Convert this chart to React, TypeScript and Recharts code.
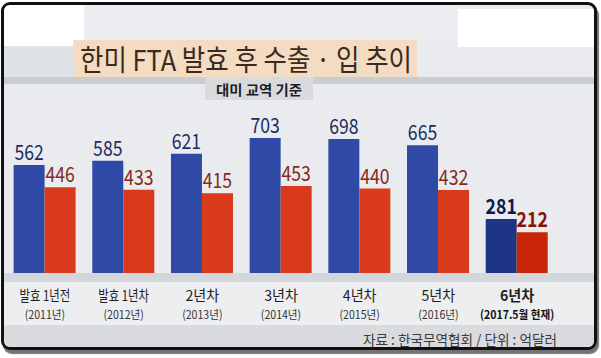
import { BarChart, Bar, XAxis, YAxis, Cell, LabelList } from 'recharts'

const categories = ['발효 1년전', '발효 1년차', '2년차', '3년차', '4년차', '5년차', '6년차']
const periods = ['(2011년)', '(2012년)', '(2013년)', '(2014년)', '(2015년)', '(2016년)', '(2017.5월 현재)']
const exportsUS = [562, 585, 621, 703, 698, 665, 281]
const importsUS = [446, 433, 415, 453, 440, 432, 212]

const data = categories.map((name, i) => ({
  name,
  period: periods[i],
  exp: exportsUS[i],
  imp: importsUS[i],
}))

const FONT = '"Noto Sans CJK KR", "Noto Sans", sans-serif'
const LAST = categories.length - 1

const COLORS = {
  blue: '#2f4aa6',
  blueLast: '#1e3585',
  red: '#d93a1c',
  redLast: '#c92508',
  blueText: '#1d2c63',
  redText: '#86291a',
  blueTextLast: '#0c1a50',
  redTextLast: '#8a1200',
}

const CategoryTick = (props: any) => {
  const { x, y, payload, index } = props
  const label: string = payload.value
  const long = label.length > 4
  const isLast = index === LAST
  return (
    <g>
      <text
        transform={`translate(${x},${y + 28}) scale(${long ? 0.76 : 0.94},1)`}
        textAnchor="middle"
        fontFamily={FONT}
        fontSize={15}
        fontWeight={isLast ? 600 : 400}
        fill="#1e1e1e"
      >
        {label}
      </text>
      <text
        transform={`translate(${x},${y + 46}) scale(0.92,1)`}
        textAnchor="middle"
        fontFamily={FONT}
        fontSize={11.5}
        fontWeight={isLast ? 700 : 400}
        fill={isLast ? '#111' : '#333'}
      >
        {periods[index]}
      </text>
    </g>
  )
}

const makeLabel = (normal: string, last: string) => (props: any) => {
  const { x, y, width, value, index } = props
  const isLast = index === LAST
  return (
    <text
      transform={`translate(${x + width / 2},${y - 5}) scale(0.84,1)`}
      textAnchor="middle"
      fontFamily={FONT}
      fontSize={21}
      fontWeight={isLast ? 700 : 400}
      fill={isLast ? last : normal}
    >
      {value}
    </text>
  )
}

export default function App() {
  return (
    <div style={{ position: 'absolute', left: 0, top: 0, width: 601, height: 358, background: '#fff' }}>
      <div
        style={{
          position: 'absolute', left: 1, top: 2, width: 590, height: 342,
          border: '3px solid #111', borderRadius: 9, overflow: 'hidden',
          background: '#e9ebee', boxShadow: '2px 4px 1px rgba(0,0,0,0.55)',
        }}
      >
        {/* backgrounds, coordinates relative to the inner box (offset 4,5) */}
        <div style={{ position: 'absolute', left: 0, top: 0, width: 80, height: 41, background: '#fff' }} />
        <div style={{ position: 'absolute', left: 80, top: 0, width: 374, height: 36, background: '#eceef1' }} />
        <div style={{ position: 'absolute', left: 454, top: 4, width: 140, height: 38, background: '#fff' }} />
        <div style={{ position: 'absolute', left: 0, top: 41, width: 70, height: 31, background: '#dfe2e6' }} />
        <div style={{ position: 'absolute', left: 69, top: 35, width: 344, height: 37, background: '#f4dcc2' }} />
        <div style={{ position: 'absolute', left: 0, top: 72, width: 600, height: 7, background: '#c9ccd1' }} />
        <div style={{ position: 'absolute', left: 201, top: 72, width: 108, height: 23, background: '#d8dade' }} />
        <div style={{ position: 'absolute', left: 0, top: 268, width: 600, height: 9, background: '#d3d6da' }} />
        <div style={{ position: 'absolute', left: 0, top: 277, width: 600, height: 43, background: '#eceef0' }} />
        <div style={{ position: 'absolute', left: 0, top: 320, width: 600, height: 30, background: '#d9dbde' }} />
      </div>

      <div style={{ position: 'absolute', left: 0, top: 0 }}>
        <BarChart
          width={601}
          height={358}
          data={data}
          barSize={31}
          barGap={0}
          margin={{ top: 119.4, right: 44.6, bottom: 45, left: 5.6 }}
        >
          <XAxis
            dataKey="name"
            axisLine={false}
            tickLine={false}
            tickSize={0}
            tickMargin={0}
            height={40}
            interval={0}
            tick={<CategoryTick />}
          />
          <YAxis hide domain={[0, 800]} />
          <Bar dataKey="exp" fill={COLORS.blue} isAnimationActive={false}>
            {data.map((_, i) => (
              <Cell key={i} fill={i === LAST ? COLORS.blueLast : COLORS.blue} />
            ))}
            <LabelList dataKey="exp" content={makeLabel(COLORS.blueText, COLORS.blueTextLast)} />
          </Bar>
          <Bar dataKey="imp" fill={COLORS.red} isAnimationActive={false}>
            {data.map((_, i) => (
              <Cell key={i} fill={i === LAST ? COLORS.redLast : COLORS.red} />
            ))}
            <LabelList dataKey="imp" content={makeLabel(COLORS.redText, COLORS.redTextLast)} />
          </Bar>
        </BarChart>
      </div>

      <svg width={601} height={358} style={{ position: 'absolute', left: 0, top: 0, pointerEvents: 'none' }}>
        <text
          x={80}
          y={71}
          textLength={332}
          lengthAdjust="spacingAndGlyphs"
          fontFamily={FONT}
          fontSize={29}
          fontWeight={400}
          fill="#3a2a20"
        >
          한미 FTA 발효 후 수출 · 입 추이
        </text>
        <text
          x={216}
          y={95}
          textLength={86}
          lengthAdjust="spacingAndGlyphs"
          fontFamily={FONT}
          fontSize={14}
          fontWeight={700}
          fill="#1e1e1e"
        >
          대미 교역 기준
        </text>
        <text
          x={363}
          y={345}
          textLength={194}
          lengthAdjust="spacingAndGlyphs"
          fontFamily={FONT}
          fontSize={14}
          fill="#3a3a3a"
        >
          자료 : 한국무역협회 / 단위 : 억달러
        </text>
      </svg>
    </div>
  )
}
